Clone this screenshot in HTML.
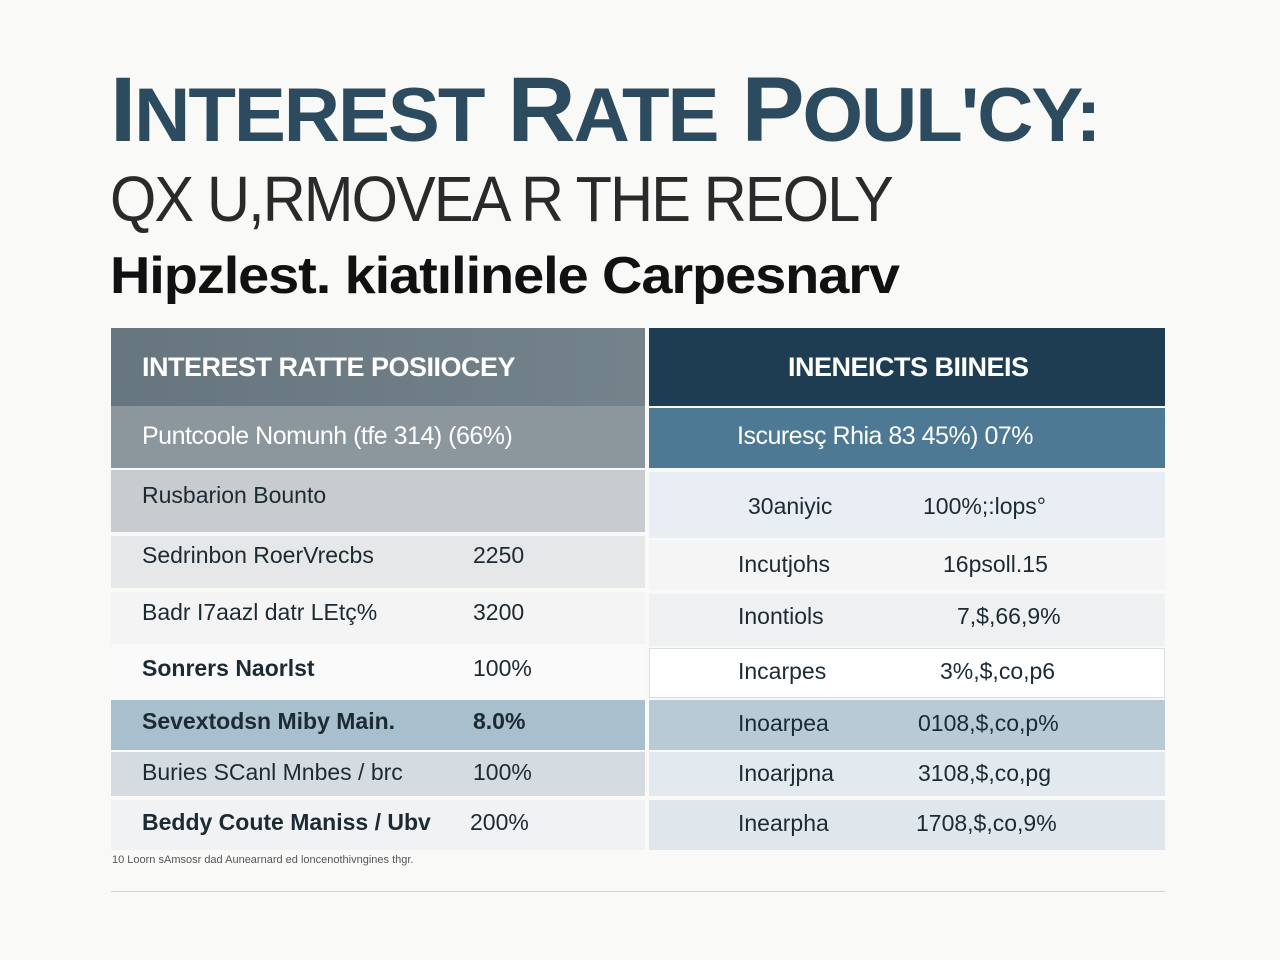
<!DOCTYPE html>
<html><head><meta charset="utf-8"><style>
body{margin:0;width:1280px;height:960px;background:#f9f9f8;font-family:"Liberation Sans",sans-serif;position:relative;overflow:hidden}
.a{position:absolute;white-space:nowrap}
.c{position:absolute}
</style></head><body>
<div class="a" style="left:110px;top:58px;font-size:92px;font-weight:bold;color:#2d4b5e;letter-spacing:-2px;transform:scaleX(1.025);transform-origin:left">I<span style="font-size:76px">NTEREST</span> R<span style="font-size:76px">ATE</span> P<span style="font-size:76px">OUL'CY:</span></div>
<div class="a" style="left:110px;top:162px;font-size:64px;color:#2a2a2a;letter-spacing:-2px;transform:scaleX(0.93);transform-origin:left">QX U,RMOVEA R THE REOLY</div>
<div class="a" style="left:110px;top:246px;font-size:52px;font-weight:bold;color:#111;letter-spacing:-1px;transform:scaleX(1.075);transform-origin:left">Hipzlest. kiatılinele Carpesnarv</div>

<div class="c" style="left:111px;top:328px;width:534px;height:78px;background:linear-gradient(90deg,#66757e,#74838b)"></div>
<div class="c" style="left:111px;top:406px;width:534px;height:62px;background:#8b979d"></div>
<div class="c" style="left:111px;top:470px;width:534px;height:62px;background:#c9ccce"></div>
<div class="c" style="left:111px;top:536px;width:534px;height:52px;background:#e5e7e8"></div>
<div class="c" style="left:111px;top:592px;width:534px;height:52px;background:#f4f4f4"></div>
<div class="c" style="left:111px;top:648px;width:534px;height:50px;background:#fafafa"></div>
<div class="c" style="left:111px;top:700px;width:534px;height:50px;background:#a8bfcd"></div>
<div class="c" style="left:111px;top:752px;width:534px;height:44px;background:#d5dce1"></div>
<div class="c" style="left:111px;top:800px;width:534px;height:50px;background:#f1f2f3"></div>

<div class="c" style="left:649px;top:328px;width:516px;height:78px;background:#1f3d52"></div>
<div class="c" style="left:649px;top:408px;width:516px;height:60px;background:#4e7994"></div>
<div class="c" style="left:649px;top:472px;width:516px;height:66px;background:#e8eef3"></div>
<div class="c" style="left:649px;top:540px;width:516px;height:50px;background:#f5f5f5"></div>
<div class="c" style="left:649px;top:594px;width:516px;height:52px;background:#eef0f2"></div>
<div class="c" style="left:649px;top:648px;width:514px;height:48px;background:#fff;border:1px solid #d8dde0"></div>
<div class="c" style="left:649px;top:700px;width:516px;height:50px;background:#b7cad6"></div>
<div class="c" style="left:649px;top:752px;width:516px;height:44px;background:#e3eaef"></div>
<div class="c" style="left:649px;top:800px;width:516px;height:50px;background:#dfe7ed"></div>

<div class="a" style="left:142px;top:352px;font-size:27px;color:#fff;font-weight:bold;letter-spacing:-0.5px">INTEREST RATTE POSIIOCEY</div>
<div class="a" style="left:788px;top:352px;font-size:27px;color:#fff;font-weight:bold;letter-spacing:-0.5px">INENEICTS BIINEIS</div>
<div class="a" style="left:142px;top:422px;font-size:25px;color:#fff;letter-spacing:-0.5px">Puntcoole Nomunh (tfe 314) (66%)</div>
<div class="a" style="left:737px;top:422px;font-size:25px;color:#fff;letter-spacing:-0.5px">Iscuresç Rhia 83 45%) 07%</div>

<div style="font-size:23px;color:#1c2a33">
<div class="a" style="left:142px;top:482px">Rusbarion Bounto</div>
<div class="a" style="left:142px;top:542px">Sedrinbon RoerVrecbs</div><div class="a" style="left:473px;top:542px">2250</div>
<div class="a" style="left:142px;top:599px">Badr I7aazl datr LEtç%</div><div class="a" style="left:473px;top:599px">3200</div>
<div class="a" style="left:142px;top:655px;font-weight:bold">Sonrers Naorlst</div><div class="a" style="left:473px;top:655px">100%</div>
<div class="a" style="left:142px;top:708px;font-weight:bold">Sevextodsn Miby Main.</div><div class="a" style="left:473px;top:708px;font-weight:bold">8.0%</div>
<div class="a" style="left:142px;top:759px">Buries SCanl Mnbes / brc</div><div class="a" style="left:473px;top:759px">100%</div>
<div class="a" style="left:142px;top:809px;font-weight:bold">Beddy Coute Maniss / Ubv</div><div class="a" style="left:470px;top:809px">200%</div>

<div class="a" style="left:748px;top:493px">30aniyic</div><div class="a" style="left:923px;top:493px">100%;:lops°</div>
<div class="a" style="left:738px;top:551px">Incutjohs</div><div class="a" style="left:943px;top:551px">16psoll.15</div>
<div class="a" style="left:738px;top:603px">Inontiols</div><div class="a" style="left:957px;top:603px">7,$,66,9%</div>
<div class="a" style="left:738px;top:658px">Incarpes</div><div class="a" style="left:940px;top:658px">3%,$,co,p6</div>
<div class="a" style="left:738px;top:710px">Inoarpea</div><div class="a" style="left:918px;top:710px">0108,$,co,p%</div>
<div class="a" style="left:738px;top:760px">Inoarjpna</div><div class="a" style="left:918px;top:760px">3108,$,co,pg</div>
<div class="a" style="left:738px;top:810px">Inearpha</div><div class="a" style="left:916px;top:810px">1708,$,co,9%</div>
</div>
<div class="a" style="left:112px;top:854px;font-size:11px;color:#555">10 Loorn sAmsosr dad Aunearnard ed loncenothivngines thgr.</div>
<div class="c" style="left:111px;top:891px;width:1054px;height:1px;background:#d0d3d5"></div>
</body></html>
